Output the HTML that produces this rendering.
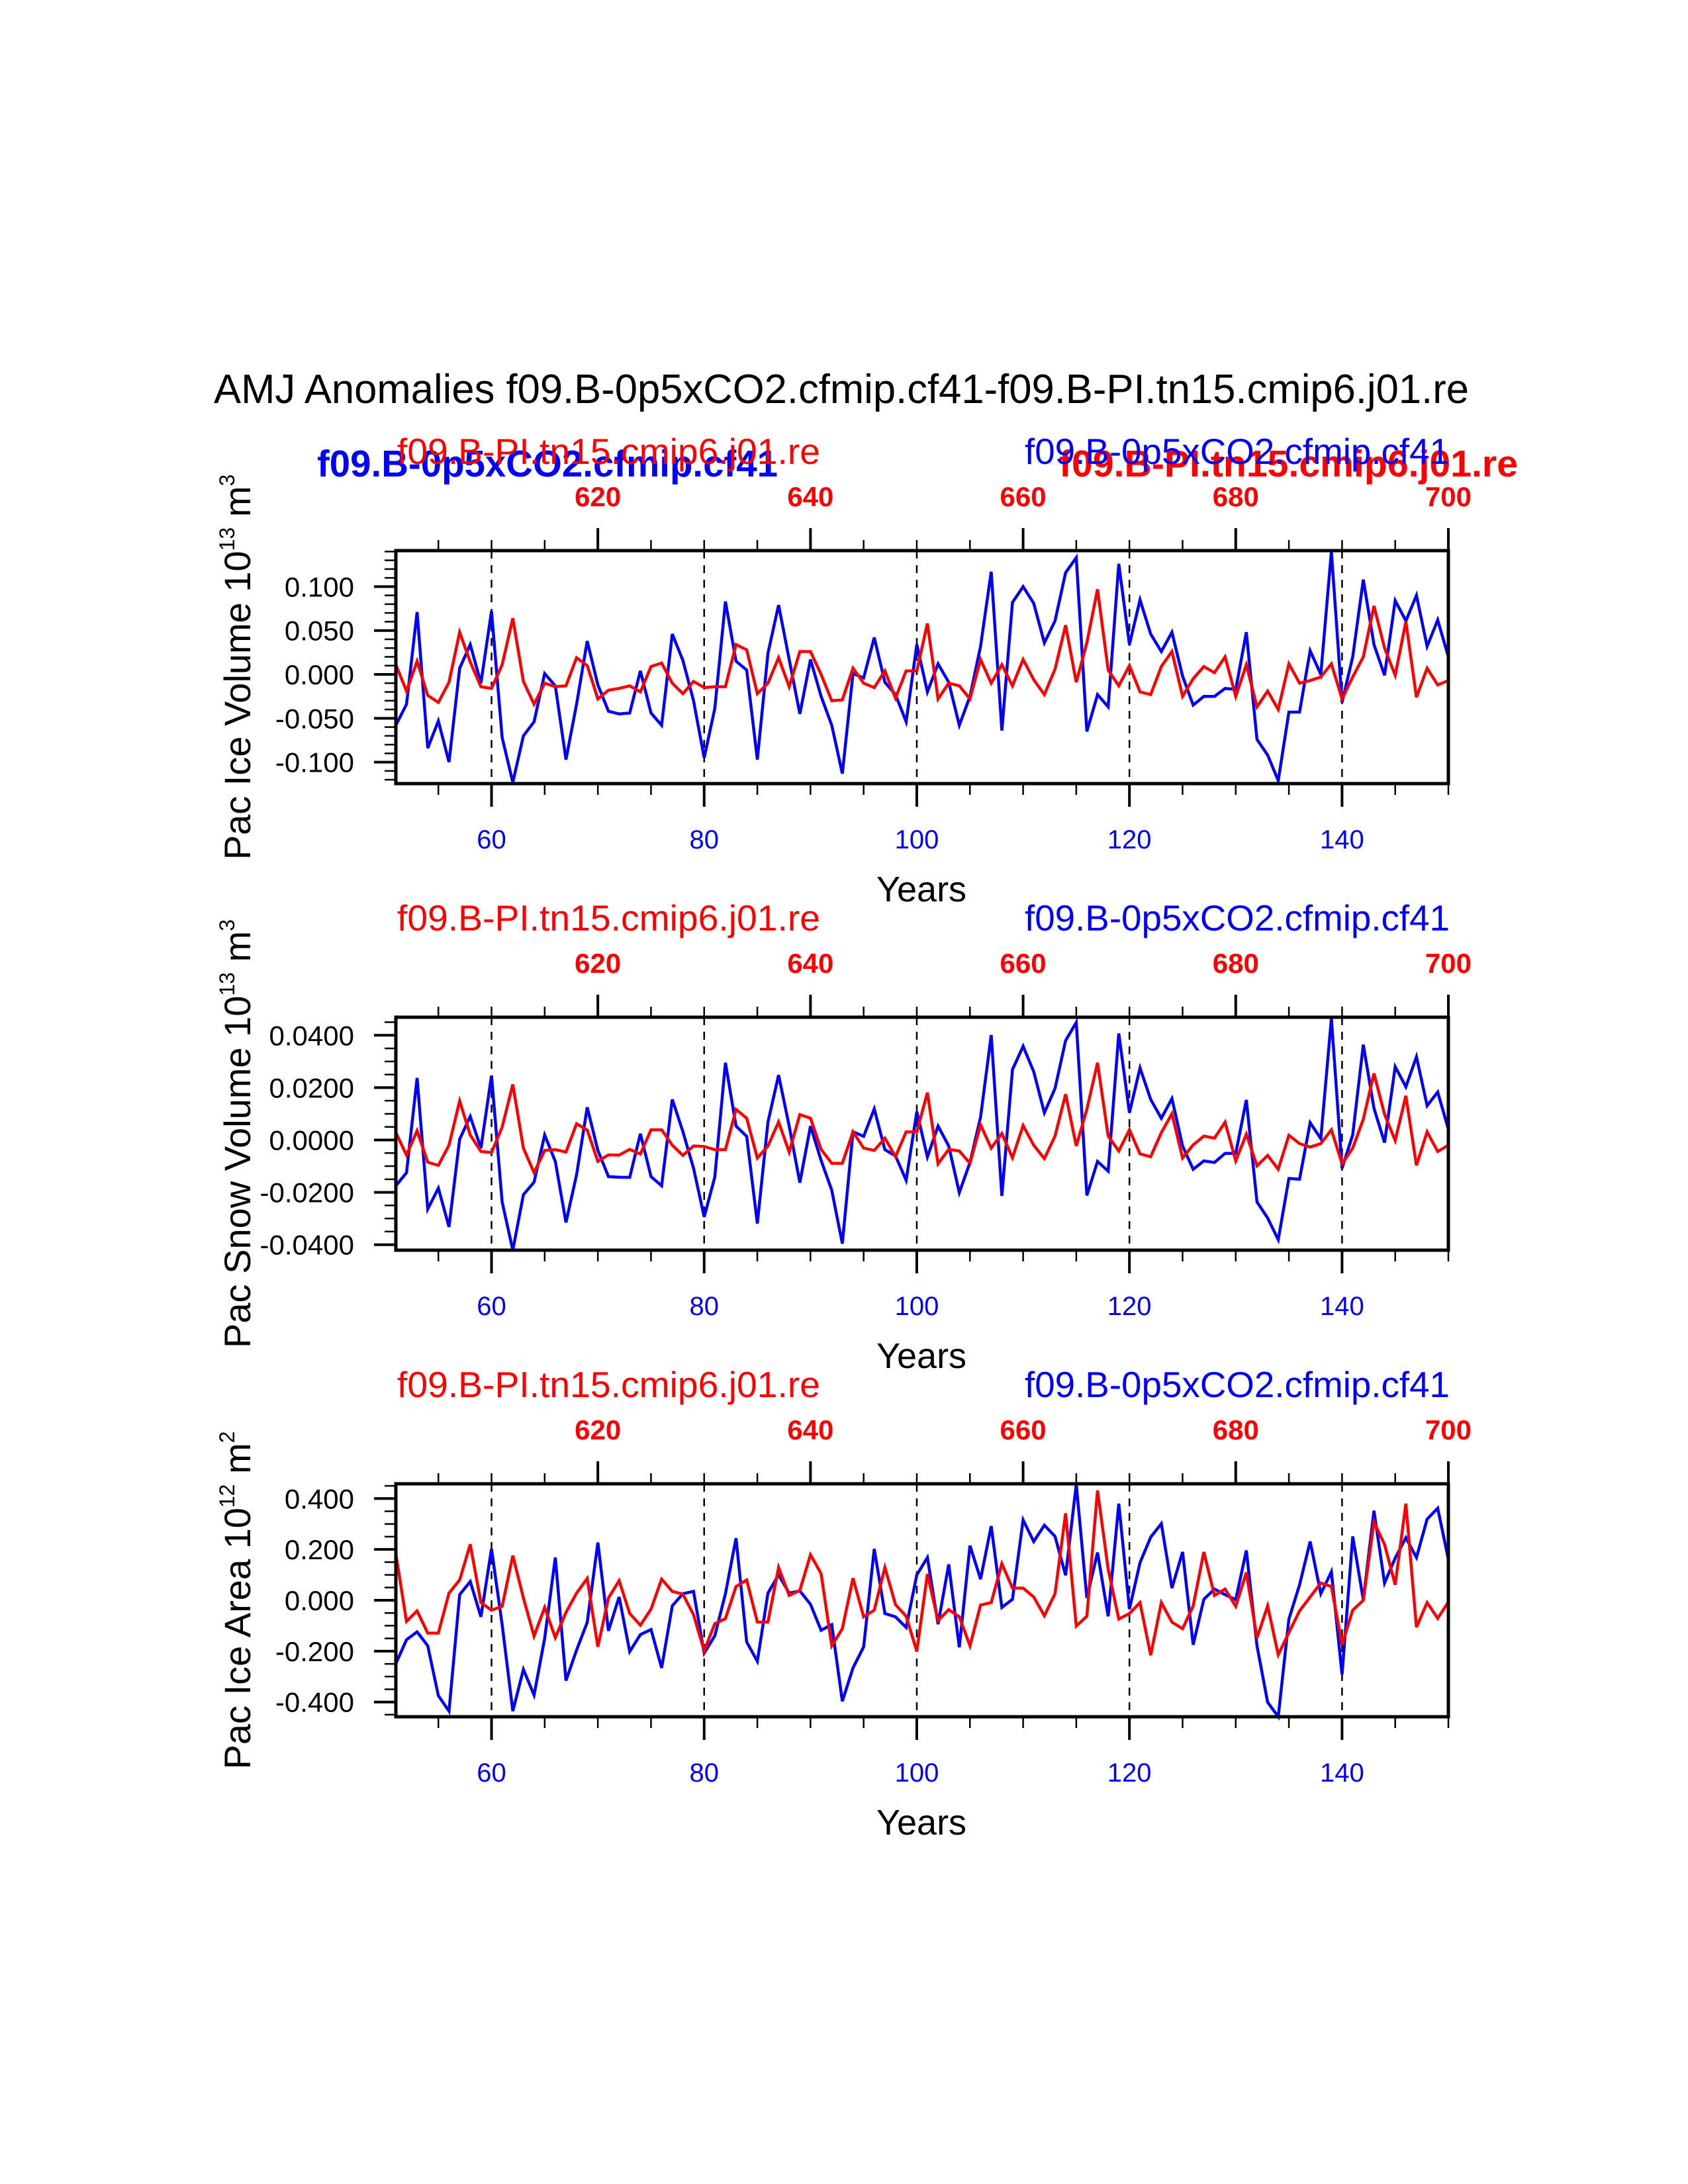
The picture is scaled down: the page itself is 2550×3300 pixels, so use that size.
<!DOCTYPE html>
<html><head><meta charset="utf-8"><title>AMJ Anomalies</title>
<style>html,body{margin:0;padding:0;background:#fff}svg{display:block}text{font-family:"Liberation Sans",Arial,sans-serif}</style>
</head><body>
<svg id="chart" xmlns="http://www.w3.org/2000/svg" width="2550" height="3300" viewBox="0 0 2550 3300">
<text x="323" y="609" font-size="62" textLength="1896" lengthAdjust="spacingAndGlyphs">AMJ Anomalies f09.B-0p5xCO2.cfmip.cf41-f09.B-PI.tn15.cmip6.j01.re</text>
<text x="479" y="720" font-size="57" font-weight="bold" fill="#0000ff" textLength="696" lengthAdjust="spacingAndGlyphs">f09.B-0p5xCO2.cfmip.cf41</text>
<text x="1600" y="720" font-size="57" font-weight="bold" fill="#ff0000" textLength="693" lengthAdjust="spacingAndGlyphs">f09.B-PI.tn15.cmip6.j01.re</text>
<g id="plots"></g>
</svg>
<script>
// Shared x-axis data
const years = [];
for (let y = 51; y <= 150; y++) years.push(y);
const bottomTickLabels = ["60","80","100","120","140"];
const topTickLabels = ["620","640","660","680","700"];

// Panel 1: Pac Ice Volume
const iceVolBlue = [-0.058,-0.034,0.071,-0.084,-0.053,-0.100,0.007,0.034,-0.010,0.072,-0.072,-0.123,-0.070,-0.054,0.001,-0.013,-0.097,-0.034,0.038,-0.012,-0.042,-0.045,-0.044,0.004,-0.044,-0.058,0.046,0.016,-0.030,-0.095,-0.039,0.083,0.015,0.005,-0.097,0.024,0.079,0.017,-0.045,0.017,-0.025,-0.058,-0.113,0.001,-0.004,0.042,-0.009,-0.023,-0.054,0.034,-0.020,0.012,-0.009,-0.058,-0.025,0.032,0.117,-0.064,0.082,0.100,0.081,0.036,0.061,0.116,0.133,-0.065,-0.023,-0.037,0.126,0.034,0.085,0.046,0.026,0.048,-0.002,-0.035,-0.025,-0.025,-0.016,-0.017,0.048,-0.074,-0.092,-0.121,-0.043,-0.043,0.027,0.000,0.140,-0.032,0.020,0.108,0.034,-0.001,0.084,0.061,0.090,0.032,0.062,0.020];
const iceVolRed = [0.011,-0.019,0.015,-0.024,-0.032,-0.009,0.048,0.014,-0.014,-0.016,0.011,0.064,-0.008,-0.034,-0.010,-0.014,-0.013,0.019,0.010,-0.028,-0.018,-0.016,-0.013,-0.020,0.009,0.013,-0.010,-0.022,-0.008,-0.015,-0.014,-0.014,0.034,0.028,-0.022,-0.010,0.019,-0.014,0.026,0.026,0.000,-0.030,-0.029,0.007,-0.010,-0.015,0.004,-0.027,0.004,0.004,0.058,-0.028,-0.010,-0.013,-0.028,0.017,-0.010,0.011,-0.013,0.017,-0.006,-0.023,0.006,0.056,-0.009,0.036,0.097,0.005,-0.013,0.010,-0.020,-0.023,0.009,0.026,-0.025,-0.005,0.009,0.002,0.020,-0.025,0.011,-0.037,-0.019,-0.040,0.012,-0.010,-0.007,-0.003,0.012,-0.028,-0.003,0.020,0.078,0.030,-0.001,0.060,-0.026,0.007,-0.012,-0.007];
const iceVolTicks = [0.1,0.05,0,-0.05,-0.1];
const iceVolTickLabels = ["0.100","0.050","0.000","-0.050","-0.100"];

// Panel 2: Pac Snow Volume
const snowVolBlue = [-0.0175,-0.0125,0.0237,-0.0264,-0.0184,-0.0332,0.0003,0.0090,-0.0031,0.0246,-0.0237,-0.0421,-0.0209,-0.0161,0.0019,-0.0082,-0.0315,-0.0133,0.0125,-0.0040,-0.0140,-0.0142,-0.0143,0.0024,-0.0140,-0.0175,0.0155,0.0032,-0.0108,-0.0294,-0.0142,0.0295,0.0053,0.0014,-0.0319,0.0068,0.0248,0.0053,-0.0163,0.0053,-0.0078,-0.0192,-0.0396,0.0031,0.0014,0.0119,-0.0037,-0.0061,-0.0154,0.0108,-0.0065,0.0053,-0.0023,-0.0201,-0.0086,0.0087,0.0401,-0.0214,0.0269,0.0358,0.0261,0.0104,0.0197,0.0380,0.0449,-0.0212,-0.0082,-0.0119,0.0407,0.0104,0.0275,0.0155,0.0083,0.0158,-0.0023,-0.0112,-0.0080,-0.0086,-0.0051,-0.0051,0.0153,-0.0237,-0.0298,-0.0381,-0.0147,-0.0150,0.0066,0.0005,0.0464,-0.0108,0.0020,0.0364,0.0121,-0.0010,0.0280,0.0203,0.0318,0.0131,0.0183,0.0041];
const snowVolRed = [0.0028,-0.0058,0.0035,-0.0085,-0.0097,-0.0020,0.0149,0.0019,-0.0044,-0.0048,0.0049,0.0212,-0.0031,-0.0125,-0.0040,-0.0037,-0.0046,0.0062,0.0038,-0.0082,-0.0057,-0.0058,-0.0036,-0.0054,0.0039,0.0039,-0.0020,-0.0059,-0.0023,-0.0025,-0.0037,-0.0037,0.0117,0.0083,-0.0069,-0.0023,0.0069,-0.0046,0.0097,0.0083,-0.0036,-0.0089,-0.0089,0.0031,-0.0031,-0.0040,0.0007,-0.0064,0.0031,0.0031,0.0181,-0.0091,-0.0036,-0.0042,-0.0089,0.0058,-0.0031,0.0025,-0.0068,0.0055,-0.0020,-0.0071,0.0015,0.0175,-0.0023,0.0117,0.0295,0.0015,-0.0042,0.0039,-0.0053,-0.0064,0.0028,0.0100,-0.0069,-0.0019,0.0015,0.0007,0.0068,-0.0080,0.0022,-0.0099,-0.0059,-0.0112,0.0018,-0.0014,-0.0027,-0.0014,0.0039,-0.0091,-0.0031,0.0079,0.0254,0.0098,-0.0002,0.0169,-0.0097,0.0031,-0.0044,-0.0020];
const snowVolTicks = [0.04,0.02,0,-0.02,-0.04];
const snowVolTickLabels = ["0.0400","0.0200","0.0000","-0.0200","-0.0400"];

// Panel 3: Pac Ice Area
const iceAreaBlue = [-0.249,-0.155,-0.124,-0.179,-0.375,-0.436,0.022,0.074,-0.065,0.202,-0.096,-0.436,-0.272,-0.373,-0.150,0.168,-0.316,-0.196,-0.087,0.227,-0.120,0.013,-0.202,-0.135,-0.115,-0.266,-0.022,0.026,0.035,-0.208,-0.140,0.026,0.244,-0.164,-0.240,0.028,0.100,0.028,0.037,-0.016,-0.118,-0.096,-0.397,-0.266,-0.183,0.202,-0.052,-0.065,-0.107,0.100,0.168,-0.094,0.141,-0.185,0.215,0.083,0.292,-0.028,0.004,0.316,0.231,0.295,0.251,0.098,0.456,0.009,0.188,-0.063,0.380,-0.035,0.148,0.248,0.301,0.048,0.190,-0.175,0.004,0.044,0.022,0.002,0.196,-0.179,-0.401,-0.458,-0.074,0.061,0.231,0.026,0.112,-0.292,0.251,0.002,0.352,0.068,0.166,0.246,0.168,0.319,0.362,0.161];
const iceAreaRed = [0.183,-0.083,-0.042,-0.129,-0.129,0.028,0.080,0.220,-0.009,-0.039,-0.024,0.176,0.009,-0.141,-0.028,-0.147,-0.048,0.028,0.086,-0.183,0.009,0.077,-0.052,-0.098,-0.035,0.083,0.035,0.024,-0.057,-0.199,-0.092,-0.072,0.054,0.080,-0.086,-0.086,0.129,0.019,0.039,0.179,0.105,-0.179,-0.112,0.087,-0.065,-0.039,0.129,-0.017,-0.063,-0.201,0.103,-0.080,-0.037,-0.065,-0.179,-0.019,-0.009,0.144,0.048,0.048,0.013,-0.061,0.026,0.342,-0.101,-0.063,0.432,0.122,-0.074,-0.052,-0.009,-0.216,-0.009,-0.086,-0.112,-0.022,0.190,0.019,0.044,-0.024,0.109,-0.148,-0.022,-0.214,-0.127,-0.042,0.013,0.068,0.054,-0.175,-0.039,0.000,0.307,0.220,0.061,0.380,-0.106,-0.009,-0.071,-0.007];
const iceAreaTicks = [0.4,0.2,0,-0.2,-0.4];
const iceAreaTickLabels = ["0.400","0.200","0.000","-0.200","-0.400"];

const NS = "http://www.w3.org/2000/svg";
const root = document.getElementById("plots");
const X0 = 598, X1 = 2188, XMIN = 51, XMAX = 150;
function xs(v){ return X0 + (v - XMIN) * (X1 - X0) / (XMAX - XMIN); }
function mk(tag, attrs, parent){
  const e = document.createElementNS(NS, tag);
  for (const k in attrs) e.setAttribute(k, attrs[k]);
  (parent || root).appendChild(e);
  return e;
}

const panels = [
  {key:"ice-volume", top:832, ymin:-0.1244, ymax:0.141, minor:0.01, blue:iceVolBlue, red:iceVolRed, ticks:iceVolTicks, tickLabels:iceVolTickLabels, title:["Pac Ice Volume 10","13"," m","3"]},
  {key:"snow-volume", top:1537, ymin:-0.0421, ymax:0.0469, minor:0.005, blue:snowVolBlue, red:snowVolRed, ticks:snowVolTicks, tickLabels:snowVolTickLabels, title:["Pac Snow Volume 10","13"," m","3"]},
  {key:"ice-area", top:2242, ymin:-0.458, ymax:0.458, minor:0.05, blue:iceAreaBlue, red:iceAreaRed, ticks:iceAreaTicks, tickLabels:iceAreaTickLabels, title:["Pac Ice Area 10","12"," m","2"]}
];
const H = 352;

panels.forEach(function(p){
  const g = mk("g", {});
  
  
  const top = p.top, bot = top + H;
  const ys = function(v){ return bot - (v - p.ymin) * H / (p.ymax - p.ymin); };

  // dashed verticals
  for (let yr = 60; yr <= 140; yr += 20) {
    const l = mk("line", {x1:xs(yr), x2:xs(yr), y1:top, y2:bot, stroke:"#000", "stroke-width":2.5, "stroke-dasharray":"12,10"}, g);
    
    
  }
  // series
  [["blue","#0000ff",p.blue],["red","#ff0000",p.red]].forEach(function(s){
    let d = "";
    s[2].forEach(function(v,i){ d += (i ? "L" : "M") + xs(years[i]).toFixed(1) + "," + ys(v).toFixed(1); });
    const path = mk("path", {d:d, fill:"none", stroke:s[1], "stroke-width":4.5, "stroke-linejoin":"miter"}, g);
    
    
  });
  // frame
  const fr = mk("rect", {x:X0, y:top, width:X1-X0, height:H, fill:"none", stroke:"#000", "stroke-width":5}, g);
  
  

  // bottom & top ticks
  for (let yr = 55; yr <= 150; yr += 5) {
    const majB = (yr % 20 === 0 && yr <= 140);
    const lb = mk("line", {x1:xs(yr), x2:xs(yr), y1:bot, y2:bot + (majB ? 35 : 17), stroke:"#000", "stroke-width":majB ? 4 : 2.5}, g);
    
    
    const majT = ((yr - 70) % 20 === 0 && yr >= 70);
    const lt = mk("line", {x1:xs(yr), x2:xs(yr), y1:top, y2:top - (majT ? 34 : 16), stroke:"#000", "stroke-width":majT ? 4 : 2.5}, g);
    
    
  }
  bottomTickLabels.forEach(function(lbl, i){
    const t = mk("text", {x:xs(60 + 20*i), y:bot + 98, "font-size":40, fill:"#0000ff", "text-anchor":"middle"}, g);
    t.textContent = lbl;
    
    
  });
  topTickLabels.forEach(function(lbl, i){
    const t = mk("text", {x:xs(70 + 20*i), y:top - 67, "font-size":42, "font-weight":"bold", fill:"#ff0000", "text-anchor":"middle"}, g);
    t.textContent = lbl;
    
    
  });
  // left ticks
  const n0 = Math.ceil(p.ymin / p.minor - 1e-6), n1 = Math.floor(p.ymax / p.minor + 1e-6);
  for (let n = n0; n <= n1; n++) {
    const v = n * p.minor;
    const isMaj = p.ticks.some(function(t){ return Math.abs(t - v) < p.minor/10; });
    const l = mk("line", {x1:X0, x2:X0 - (isMaj ? 33 : 17), y1:ys(v), y2:ys(v), stroke:"#000", "stroke-width":isMaj ? 4 : 2.5}, g);
    
    
  }
  p.tickLabels.forEach(function(lbl, i){
    const t = mk("text", {x:535, y:ys(p.ticks[i]) + 15, "font-size":42, "text-anchor":"end"}, g);
    t.textContent = lbl;
    
    
  });
  // y-axis title
  const cy = top + H/2;
  const yt = mk("text", {x:0, y:0, "font-size":56, "text-anchor":"middle", transform:"translate(378," + cy + ") rotate(-90)"}, g);
  
  
  p.title.forEach(function(part, i){
    const ts = mk("tspan", {}, yt);
    if (i % 2 === 1) { ts.setAttribute("font-size", 32); ts.setAttribute("dy", -24); }
    else if (i > 0) { ts.setAttribute("dy", 24); }
    ts.textContent = part;
  });
  // x-axis title
  const xt = mk("text", {x:1392, y:bot + 178, "font-size":54, "text-anchor":"middle"}, g);
  xt.textContent = "Years";
  
  
  // case labels
  const rl = mk("text", {x:600, y:top - 131, "font-size":55, fill:"#ff0000", textLength:639, lengthAdjust:"spacingAndGlyphs"}, g);
  rl.textContent = "f09.B-PI.tn15.cmip6.j01.re";
  
  
  const bl = mk("text", {x:1548, y:top - 131, "font-size":55, fill:"#0000ff", textLength:642, lengthAdjust:"spacingAndGlyphs"}, g);
  bl.textContent = "f09.B-0p5xCO2.cfmip.cf41";
  
  
});
</script>
</body></html>
